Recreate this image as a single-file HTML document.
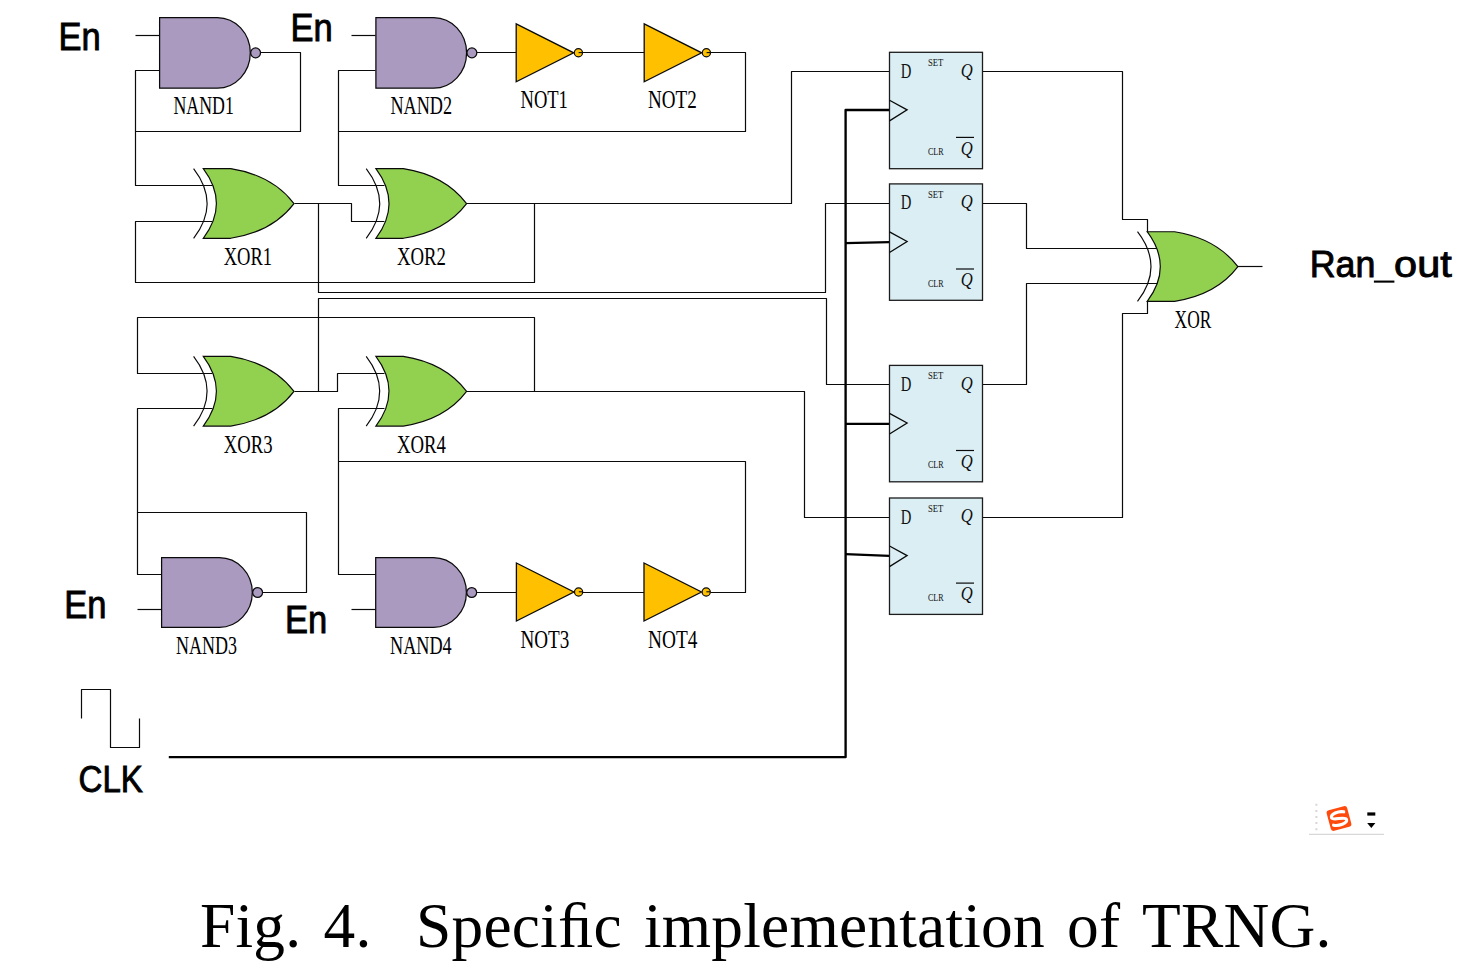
<!DOCTYPE html>
<html><head><meta charset="utf-8">
<style>
html,body{margin:0;padding:0;background:#fff;}
body{width:1475px;height:980px;overflow:hidden;}
svg{display:block;}
.w{fill:none;stroke:#0a0a0a;stroke-width:1.2;stroke-linejoin:round;}
.ck{fill:none;stroke:#000;stroke-width:2.35;stroke-linejoin:round;}
.lab{font-family:"Liberation Serif",serif;font-size:26.2px;fill:#000;}
.big{font-family:"Liberation Sans",sans-serif;font-size:38px;fill:#000;stroke:#000;stroke-width:0.9;}
.cap text{font-family:"Liberation Serif",serif;font-size:63.4px;fill:#000;letter-spacing:0.22px;}
</style></head><body>
<svg width="1475" height="980" viewBox="0 0 1475 980">
<defs>
<g id="nand">
  <path d="M0,0 H57.7 A33,35.35 0 0 1 57.7,70.7 H0 Z" fill="#AB9AC0" stroke="#0a0a0a" stroke-width="1.25"/>
  <circle cx="96" cy="35.35" r="4.95" fill="#AB9AC0" stroke="#0a0a0a" stroke-width="1.25"/>
</g>
<g id="xor">
  <path d="M0,0 H27.4 C50,3.5 74,13 90.7,35 C74,57 50,66.2 27.4,69.7 H0 Q26.2,35 0,0 Z" fill="#92D050" stroke="#0a0a0a" stroke-width="1.15"/>
  <path d="M-9.7,0 Q17.3,35 -9.7,69.7" fill="none" stroke="#0a0a0a" stroke-width="1.15"/>
</g>
<g id="not">
  <path d="M0,0 L57.5,29 L0,58 Z" fill="#FFC000" stroke="#0a0a0a" stroke-width="1.3"/>
  <circle cx="62.2" cy="29" r="4.1" fill="#FFC000" stroke="#0a0a0a" stroke-width="1.2"/>
  <path d="M62.4,28.8 H66.3" stroke="#0a0a0a" stroke-width="1.1" fill="none"/>
</g>
<g id="ff">
  <rect x="0" y="0" width="93" height="116.4" fill="#DBEEF4" stroke="#1c1c1c" stroke-width="1.3"/>
  <path d="M0,48 L17.6,57.6 L0,68.6" fill="none" stroke="#0a0a0a" stroke-width="1.3"/>
  <text x="11.3" y="25.6" font-family="Liberation Serif" font-size="21.5" fill="#111" textLength="10.6" lengthAdjust="spacingAndGlyphs">D</text>
  <text x="38.4" y="13.7" font-family="Liberation Serif" font-size="10" fill="#111" textLength="15.4" lengthAdjust="spacingAndGlyphs">SET</text>
  <text x="38.4" y="102.7" font-family="Liberation Serif" font-size="10" fill="#111" textLength="15.6" lengthAdjust="spacingAndGlyphs">CLR</text>
  <text x="71.3" y="24.3" font-family="Liberation Serif" font-style="italic" font-size="19" fill="#111" textLength="12" lengthAdjust="spacingAndGlyphs">Q</text>
  <text x="71.3" y="102.3" font-family="Liberation Serif" font-style="italic" font-size="19" fill="#111" textLength="12" lengthAdjust="spacingAndGlyphs">Q</text>
  <path d="M66.5,85.1 H84.5" stroke="#0a0a0a" stroke-width="1.2" fill="none"/>
</g>
</defs>

<!-- wires: top group -->
<path class="w" d="M135.5,35.5 H159.5"/>
<path class="w" d="M159.5,70.5 H135.5 V185.5 H212.5"/>
<path class="w" d="M260.5,52.5 H300.5 V131.5 H135.5"/>
<path class="w" d="M212.5,221.5 H135.5 V282.5 H534.5 V203.5"/>
<path class="w" d="M294.5,203.5 H351.5 V221.5 H384.5"/>
<path class="w" d="M318.5,203.5 V292.5 H825.5 V203.5 H889.5"/>
<path class="w" d="M351.5,35.5 H375.5"/>
<path class="w" d="M375.5,70.5 H338.5 V185.5 H384.5"/>
<path class="w" d="M476.5,52.5 H516.5"/>
<path class="w" d="M582.5,52.5 H644.5"/>
<path class="w" d="M710.5,52.5 H745.5 V131.5 H338.5"/>
<path class="w" d="M466.5,203.5 H791.5 V71.5 H889.5"/>
<!-- wires: bottom group -->
<path class="w" d="M212.5,373.5 H137.5 V317.5 H534.5 V391.5"/>
<path class="w" d="M212.5,408.5 H137.5 V574.5 H161.5"/>
<path class="w" d="M137.5,512.5 H306.5 V592.5 H262.5"/>
<path class="w" d="M294.5,391.5 H337.5 V373.5 H384.5"/>
<path class="w" d="M318.5,391.5 V298.5 H826.5 V384.5 H889.5"/>
<path class="w" d="M384.5,408.5 H338.5 V574.5 H375.5"/>
<path class="w" d="M338.5,461.5 H745.5 V592.5 H710.5"/>
<path class="w" d="M466.5,391.5 H804.5 V517.5 H889.5"/>
<path class="w" d="M137.5,609.5 H161.5"/>
<path class="w" d="M351.5,609.5 H375.5"/>
<path class="w" d="M476.5,592.5 H516.5"/>
<path class="w" d="M582.5,592.5 H644.5"/>
<!-- wires: right group -->
<path class="w" d="M982.5,71.5 H1122.5 V219.5 H1147.5 V232.5"/>
<path class="w" d="M982.5,203.5 H1026.5 V248.5 H1160.5"/>
<path class="w" d="M982.5,384.5 H1026.5 V283.5 H1160.5"/>
<path class="w" d="M982.5,517.5 H1122.5 V313.5 H1147.5 V301.5"/>
<path class="w" d="M1237.5,266.5 H1262.5"/>
<!-- clock -->
<path class="ck" d="M168.8,757.1 H845.6 V110 H889.3"/>
<path class="ck" d="M845.6,243.1 L889.3,242.1"/>
<path class="ck" d="M845.6,423.8 H889.3"/>
<path class="ck" d="M845.6,554.1 L889.3,555.9"/>
<path class="w" d="M81.5,718.5 V689.5 H110.5 V747.5 H139.5 V718.5"/>

<!-- gates -->
<use href="#nand" x="159.6" y="17.5"/>
<use href="#nand" x="375.9" y="17.5"/>
<use href="#nand" transform="translate(161.6,557.6) scale(1,0.987)"/>
<use href="#nand" transform="translate(375.7,557.6) scale(1,0.987)"/>
<use href="#xor" x="203.3" y="168.6"/>
<use href="#xor" x="375.9" y="168.6"/>
<use href="#xor" x="203.3" y="356.4"/>
<use href="#xor" x="375.9" y="356.4"/>
<use href="#xor" x="1147.2" y="231.7"/>
<use href="#not" x="516.2" y="23.8"/>
<use href="#not" x="644.2" y="23.8"/>
<use href="#not" x="516.4" y="563"/>
<use href="#not" x="644" y="563"/>
<use href="#ff" x="889.5" y="52.3"/>
<use href="#ff" x="889.5" y="183.9"/>
<use href="#ff" x="889.5" y="365.4"/>
<use href="#ff" x="889.5" y="498"/>

<!-- labels -->
<text class="lab" x="173.4" y="113.8" textLength="60.4" lengthAdjust="spacingAndGlyphs">NAND1</text>
<text class="lab" x="390.4" y="113.8" textLength="61.7" lengthAdjust="spacingAndGlyphs">NAND2</text>
<text class="lab" x="175.9" y="653.8" textLength="61" lengthAdjust="spacingAndGlyphs">NAND3</text>
<text class="lab" x="390" y="653.8" textLength="61.7" lengthAdjust="spacingAndGlyphs">NAND4</text>
<text class="lab" x="223.7" y="264.6" textLength="48.4" lengthAdjust="spacingAndGlyphs">XOR1</text>
<text class="lab" x="397" y="264.6" textLength="49" lengthAdjust="spacingAndGlyphs">XOR2</text>
<text class="lab" x="223.7" y="452.6" textLength="48.8" lengthAdjust="spacingAndGlyphs">XOR3</text>
<text class="lab" x="397" y="452.6" textLength="49" lengthAdjust="spacingAndGlyphs">XOR4</text>
<text class="lab" x="1174.6" y="327.6" textLength="36.7" lengthAdjust="spacingAndGlyphs">XOR</text>
<text class="lab" x="520.5" y="107.6" textLength="47.4" lengthAdjust="spacingAndGlyphs">NOT1</text>
<text class="lab" x="648" y="107.6" textLength="48.7" lengthAdjust="spacingAndGlyphs">NOT2</text>
<text class="lab" x="520.5" y="647.5" textLength="48.8" lengthAdjust="spacingAndGlyphs">NOT3</text>
<text class="lab" x="648" y="647.5" textLength="49.4" lengthAdjust="spacingAndGlyphs">NOT4</text>

<text class="big" x="58.4" y="49.8" textLength="42.2" lengthAdjust="spacingAndGlyphs">En</text>
<text class="big" x="290.5" y="41" textLength="42.2" lengthAdjust="spacingAndGlyphs">En</text>
<text class="big" x="64.2" y="617.9" textLength="42.2" lengthAdjust="spacingAndGlyphs">En</text>
<text class="big" x="285.1" y="633.2" textLength="42.2" lengthAdjust="spacingAndGlyphs">En</text>
<text class="big" style="font-size:37px" x="78.6" y="792.4" textLength="64.3" lengthAdjust="spacingAndGlyphs">CLK</text>
<text class="big" style="font-size:36.6px" x="1309.7" y="277.4" textLength="65.7" lengthAdjust="spacingAndGlyphs">Ran</text>
<path d="M1373.9,281.6 H1394.4" stroke="#000" stroke-width="2.1" fill="none"/>
<text class="big" style="font-size:36.6px" x="1394.1" y="277.4" textLength="57.6" lengthAdjust="spacingAndGlyphs">out</text>

<!-- sogou icon -->
<g>
  <path d="M1309,834.3 H1384" stroke="#d8d8d8" stroke-width="1.2" fill="none"/>
  <path d="M1316.4,803.8 V831.5" stroke="#d6d6d6" stroke-width="2" stroke-dasharray="2,4.1" fill="none"/>
  <g transform="translate(1339,818.5) rotate(-15)">
    <rect x="-10.6" y="-10.6" width="21.2" height="21.2" rx="2.8" fill="#FF4A0D"/>
    <path d="M6.3,-5.2 C1.5,-7.6 -7.2,-6.6 -7,-2.6 C-6.8,1 6.8,-1 7,3 C7.2,7 -2.5,7.4 -7,5" fill="none" stroke="#fff" stroke-width="3.1" stroke-linecap="round"/>
  </g>
  <rect x="1367.3" y="812.4" width="8" height="3.2" fill="#000"/>
  <path d="M1367.2,823 H1375.4 L1371.3,828 Z" fill="#000"/>
</g>

<!-- caption -->
<g class="cap">
<text x="200" y="947.3">Fig.</text>
<text x="323.5" y="947.3">4.</text>
<text x="416" y="947.3">Speci&#xFB01;c</text>
<text x="644" y="947.3">implementation</text>
<text x="1067" y="947.3">of</text>
<text x="1142" y="947.3">TRNG.</text>
</g>
</svg>
</body></html>
